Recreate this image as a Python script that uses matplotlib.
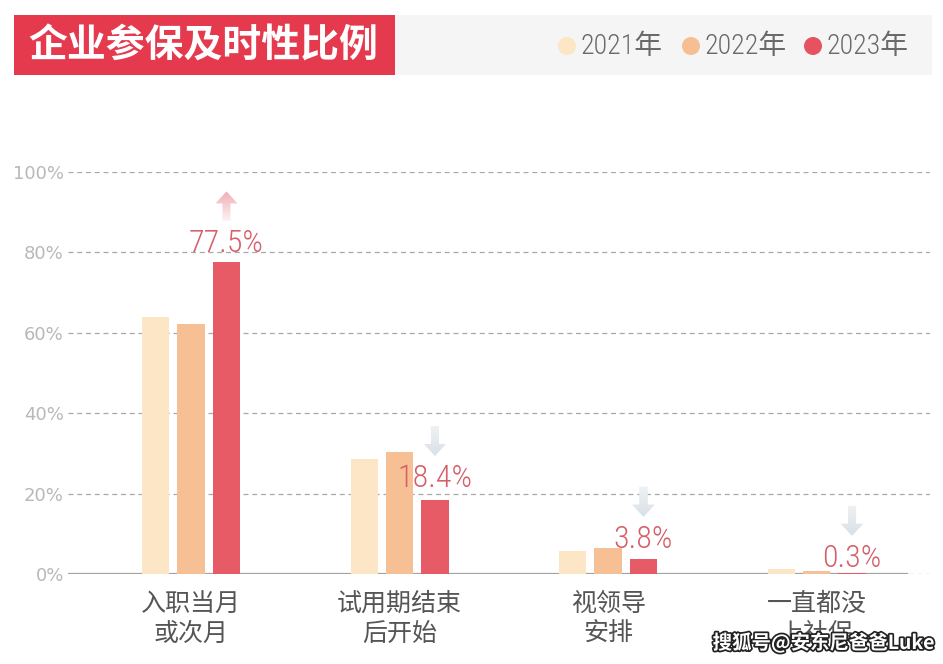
import matplotlib
matplotlib.use('Agg')
import matplotlib.pyplot as plt
from matplotlib import font_manager
from matplotlib.patches import Rectangle, Circle, Polygon
import matplotlib.transforms as mtransforms
import matplotlib.patheffects as pe
import numpy as np

# ---------------- data ----------------
categories = ['入职当月\n或次月', '试用期结束\n后开始', '视领导\n安排', '一直都没\n上社保']
years = ['2021年', '2022年', '2023年']
v2021 = [64.0, 28.6, 5.7, 1.2]
v2022 = [62.2, 30.3, 6.5, 0.7]
v2023 = [77.5, 18.4, 3.8, 0.3]
trend = ['up', 'down', 'down', 'down']
yticks = [0, 20, 40, 60, 80, 100]
title = '企业参保及时性比例'
watermark = '搜狐号@安东尼爸爸Luke'

# ---------------- style ----------------
colors = ['#fce6c6', '#f6bf94', '#e65b66']
label_dy = [10, 13, 11, 6]          # pixel gap between bar top and value label baseline
CJK = 'Noto Sans CJK SC'


def _stretch_val(s):
    if isinstance(s, (int, float)):
        return s
    m = {'ultra-condensed': 100, 'extra-condensed': 200, 'condensed': 300, 'semi-condensed': 400,
         'normal': 500, 'semi-expanded': 600, 'expanded': 700}
    return m.get(str(s), 500)


def pick_narrow():
    prefs = ['Liberation Sans Narrow', 'Roboto Condensed', 'DejaVu Sans', 'Open Sans Condensed',
             'Noto Sans', 'Open Sans', 'Roboto']
    found = {}
    for f in font_manager.fontManager.ttflist:
        fn = f.fname.lower()
        if any(k in fn for k in ('bold', 'italic', 'oblique', 'mono')):
            continue
        narrow = ('narrow' in f.name.lower() or 'condensed' in f.name.lower()
                  or 'condensed' in fn or _stretch_val(f.stretch) < 500)
        if narrow:
            found.setdefault(f.name, f)
    for p in prefs:
        if p in found:
            f = found[p]
            st = 'condensed' if _stretch_val(f.stretch) < 500 else 'normal'
            return f.name, st, True
    if found:
        f = next(iter(found.values()))
        st = 'condensed' if _stretch_val(f.stretch) < 500 else 'normal'
        return f.name, st, True
    return 'DejaVu Sans', 'normal', False


NARROW, NSTRETCH, HAS_NARROW = pick_narrow()
VAL_FS = 23 if HAS_NARROW else 17.5
LEG_FS = 20 if HAS_NARROW else 15.5

W, H = 943, 664
fig = plt.figure(figsize=(W / 100, H / 100), dpi=100)
fig.patch.set_facecolor('white')
inch = fig.dpi_scale_trans


def P(x, y):
    return (x / 100, (H - y) / 100)


# axes: 0% at y=574, 100% at y=172, x from 68 to 930 px
ax = fig.add_axes([68 / W, (H - 574) / H, (930 - 68) / W, (574 - 172) / H])
x = np.arange(len(categories))
bw = 0.13
off = 0.17
for i, (vals, col) in enumerate(zip([v2021, v2022, v2023], colors)):
    ax.bar(x + (i - 1) * off, vals, width=bw, color=col, zorder=3, linewidth=0)

x0, x1 = -0.59, 3.544
ax.set_xlim(x0, x1)
ax.set_ylim(0, 100)
ax.hlines(0, x0, 3.44, color='#a3a3a3', lw=1.6, zorder=2)

for s in ax.spines.values():
    s.set_visible(False)
ax.set_yticks(yticks)
ax.set_yticklabels([f'{t}%' for t in yticks], color='#b8b8b8', fontsize=13, family='DejaVu Sans')
ax.yaxis.grid(True, linestyle=(0, (4, 3)), color='#a8a8a8', lw=0.9)
ax.xaxis.grid(False)
ax.set_axisbelow(True)
ax.set_xticks(x)
ax.set_xticklabels(categories, fontsize=18, color='#555555', family=CJK, linespacing=1.2)
ax.tick_params(axis='both', length=0)
ax.tick_params(axis='y', pad=3)
ax.tick_params(axis='x', pad=12)

# value labels and trend arrows
AH = 30      # arrow height px
HH = 12      # head height
HW = 11      # head half width
SW = 4       # shaft half width
for i, v in enumerate(v2023):
    xc = x[i] + off
    ax.annotate(f'{v}%', (xc, v), xytext=(0, label_dy[i]), textcoords='offset pixels',
                ha='center', va='baseline', fontsize=VAL_FS, color='#d5606b',
                family=NARROW, fontstretch=NSTRETCH, fontweight='light', zorder=6)
    base = label_dy[i] + 31
    t = mtransforms.Affine2D().translate(0, base) + mtransforms.ScaledTranslation(xc, v, ax.transData)
    if trend[i] == 'up':
        verts = [(-SW, 0), (SW, 0), (SW, AH - HH), (HW, AH - HH), (0, AH), (-HW, AH - HH), (-SW, AH - HH)]
        c = np.array([0xf0, 0xa8, 0xae]) / 255
        a_top, a_bot = 0.95, 0.15
    else:
        verts = [(-SW, AH), (SW, AH), (SW, HH), (HW, HH), (0, 0), (-HW, HH), (-SW, HH)]
        c = np.array([0xd8, 0xe0, 0xe6]) / 255
        a_top, a_bot = 0.45, 1.0
    poly = Polygon(verts, closed=True, transform=t, facecolor='none', edgecolor='none')
    ax.add_patch(poly)
    for k in range(AH):
        a = a_bot + (a_top - a_bot) * (k + 0.5) / AH
        col = 1 - (1 - c) * a
        r = Rectangle((-HW - 1, k), 2 * HW + 2, 1.3, transform=t, facecolor=col, edgecolor='none', zorder=5)
        ax.add_patch(r)
        r.set_clip_path(poly)

# ---------------- header ----------------
fig.patches.append(Rectangle(P(395, 75), 537 / 100, 60 / 100, transform=inch,
                             facecolor='#f5f5f5', edgecolor='none', figure=fig))
fig.patches.append(Rectangle(P(14, 75), 381 / 100, 60 / 100, transform=inch,
                             facecolor='#e5394d', edgecolor='none', figure=fig))
fig.text(*P(28, 46), title, transform=inch, fontsize=28, fontweight='bold', color='white',
         family=CJK, va='center', ha='left')

leg_cx = [567, 691, 813]
for cx, yr, col in zip(leg_cx, years, ['#fde6c4', '#f6bf92', '#e6525f']):
    fig.patches.append(Circle(P(cx, 46), 0.09, transform=inch, facecolor=col, edgecolor='none', figure=fig))
    fig.text(*P(cx + 14, 46), yr, transform=inch, fontsize=LEG_FS, color='#6a6a6a',
             family=[NARROW, CJK], fontstretch=NSTRETCH, fontweight='light', va='center', ha='left')

fig.text(*P(935, 643), watermark, transform=inch, fontsize=14, fontweight='bold', color='white',
         family=[CJK, 'DejaVu Sans'], va='center', ha='right',
         path_effects=[pe.withStroke(linewidth=2.5, foreground='#222222')])

fig.savefig('out.png', dpi=100)
